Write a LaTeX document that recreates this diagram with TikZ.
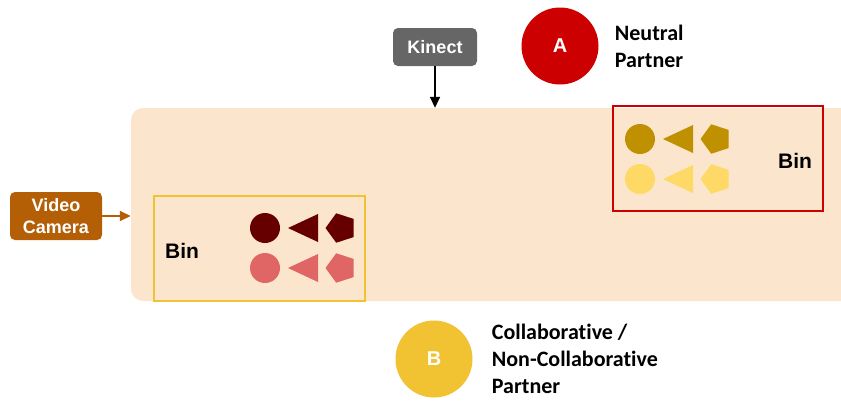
\documentclass[tikz,border=0pt]{standalone}
\usepackage{fontspec}
\setmainfont{Liberation Sans}
\newfontfamily\calibri[Ligatures=NoCommon]{Carlito}
\usetikzlibrary{positioning,arrows.meta,shapes.geometric}
\definecolor{peach}{HTML}{FCE5CD}
\definecolor{neutral}{HTML}{CC0000}
\definecolor{collab}{HTML}{F1C232}
\definecolor{camera}{HTML}{B45F06}
\definecolor{kinect}{HTML}{666666}
\definecolor{golddark}{HTML}{BF9000}
\definecolor{goldlight}{HTML}{FFD966}
\definecolor{reddark}{HTML}{660000}
\definecolor{redlight}{HTML}{E06666}

\begin{document}
\begin{tikzpicture}[x=1pt, y=-1pt, node distance=16pt,
   device/.style={rounded corners=5pt, align=center, text=white, inner sep=0pt,
     font=\fontsize{18}{22}\selectfont\bfseries},
   partner/.style={circle, minimum size=77pt, inner sep=0pt, text=white,
     font=\fontsize{20}{24}\selectfont\bfseries},
   role/.style={align=left, inner sep=0pt, font=\calibri\fontsize{22}{27}\selectfont\bfseries},
   bin/.style={draw, line width=2pt, minimum width=211pt, minimum height=105pt, inner sep=0pt},
   binlabel/.style={inner sep=0pt, font=\fontsize{21}{24}\selectfont\bfseries},
   token/.style={inner sep=0pt, outer sep=0pt},
   arr/.style={line width=1.6pt, -{Triangle[length=11pt, width=10pt]}}]
  \useasboundingbox (0,0) rectangle (841,400);

  % table area
  \node[fill=peach, rounded corners=12pt, minimum width=760pt, minimum height=193pt,
    inner sep=0pt] (area) at (511,204.5) {};

  % sensors
  \node[device, fill=kinect, minimum width=84pt, minimum height=38pt] (kinect) at (435,47) {Kinect};
  \node[device, fill=camera, minimum width=92pt, minimum height=48pt] (cam) at (56,216) {Video\\Camera};
  \draw[arr] (kinect) -- (kinect |- area.north);
  \draw[arr, camera] (cam) -- (cam -| area.west);

  % partners
  \node[partner, fill=neutral] (pa) at (560,46) {A};
  \node[role, right=of pa] (pa text) {Neutral\\Partner};
  \node[partner, fill=collab] (pb) at (434,359) {B};
  \node[role, right=19pt of pb] (pb text) {Collaborative /\\Non-Collaborative\\Partner};

  % bins
  \node[bin, draw=neutral, minimum width=210pt] (bin a) at (718,158.5) {};
  \node[binlabel] (bin a text) at (795,160.5) {Bin};
  \node[bin, draw=collab] (bin b) at (259.5,248.5) {};
  \node[binlabel] (bin b text) at (182,250.5) {Bin};

  % objects in the bins
  \foreach \cx/\cy/\dk/\lt/\nm in {640/139/golddark/goldlight/a, 265/228/reddark/redlight/b}{
    \foreach \row/\col in {0/\dk, 1/\lt}{
      \node[token, circle, fill=\col, minimum size=30pt] (\nm circ\row) at (\cx, \cy+\row*40) {};
      \fill[\col] (\cx+53, \cy+\row*40-14) -- (\cx+23, \cy+\row*40) -- (\cx+53, \cy+\row*40+14) -- cycle;
      \node[token, regular polygon, regular polygon sides=5, shape border rotate=90, fill=\col,
        minimum size=31pt] (\nm pent\row) at (\cx+76, \cy+\row*40) {};
    }
  }
\end{tikzpicture}
\end{document}
